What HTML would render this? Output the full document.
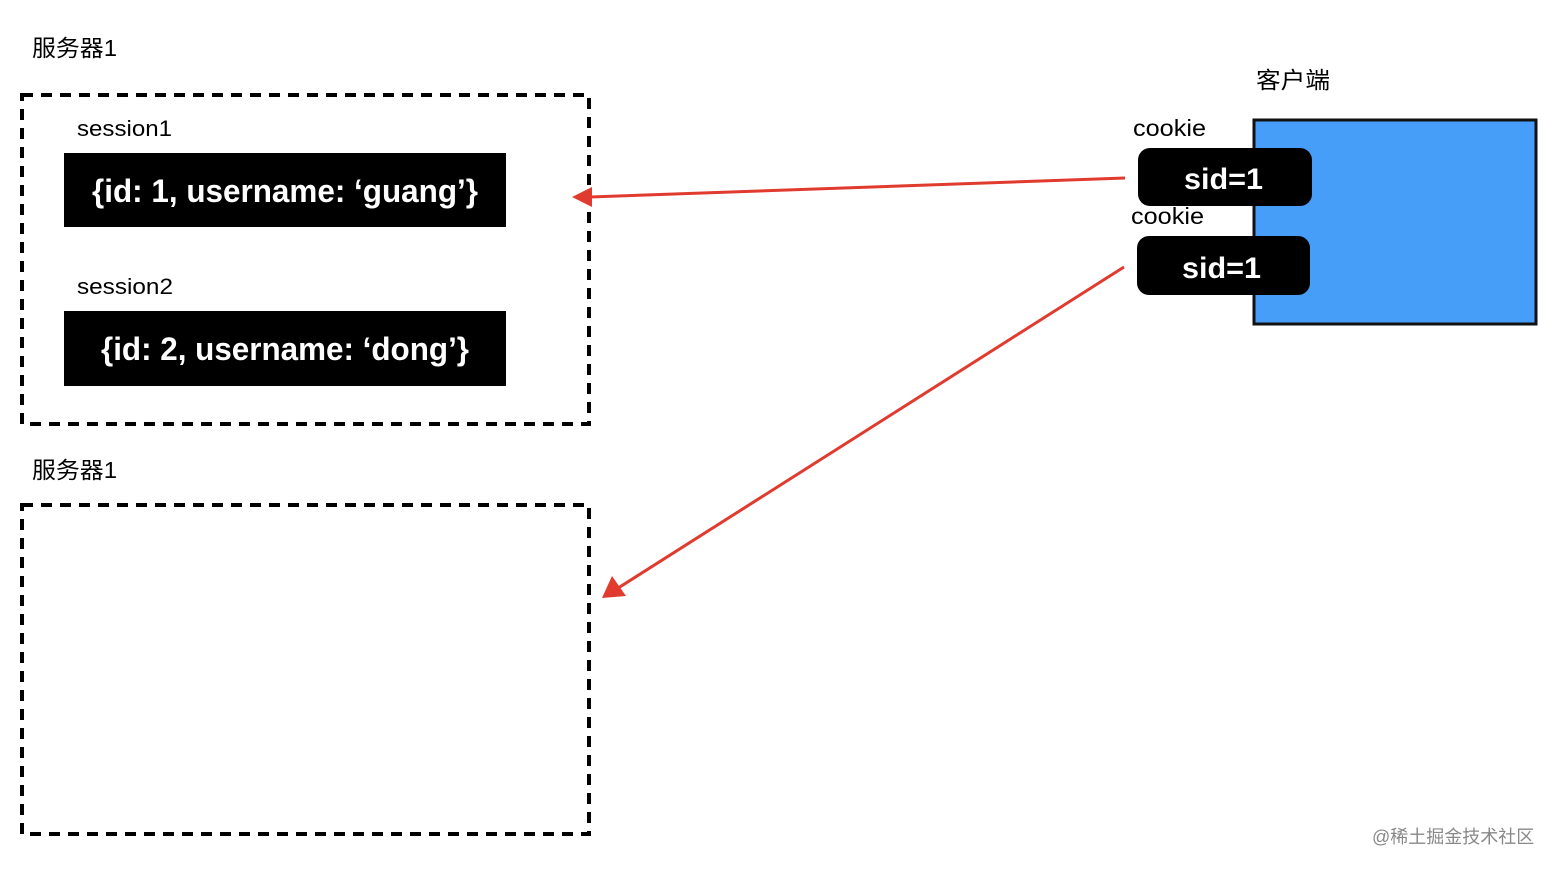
<!DOCTYPE html>
<html><head><meta charset="utf-8"><style>
body{margin:0;background:#fff;}
svg text{font-family:"Liberation Sans","Noto Sans CJK SC",sans-serif;}
</style></head><body>
<svg width="1556" height="870" xmlns="http://www.w3.org/2000/svg">
<rect x="0" y="0" width="1556" height="870" fill="#fff"/>
<text x="32" y="56" font-size="23" fill="#000" textLength="85" lengthAdjust="spacingAndGlyphs">服务器1</text>
<rect x="22" y="95" width="567" height="329" fill="none" stroke="#000" stroke-width="4" stroke-dasharray="11,8"/>
<text x="77" y="136" font-size="22" textLength="95" lengthAdjust="spacingAndGlyphs">session1</text>
<rect x="64" y="153" width="442" height="74" fill="#000"/>
<text x="92" y="202" font-size="32" fill="#fff" font-weight="bold" textLength="386" lengthAdjust="spacingAndGlyphs">{id: 1, username: ‘guang’}</text>
<text x="77" y="294" font-size="22" textLength="96" lengthAdjust="spacingAndGlyphs">session2</text>
<rect x="64" y="311" width="442" height="75" fill="#000"/>
<text x="101" y="360" font-size="32" fill="#fff" font-weight="bold" textLength="368" lengthAdjust="spacingAndGlyphs">{id: 2, username: ‘dong’}</text>
<text x="32" y="478" font-size="23" fill="#000" textLength="85" lengthAdjust="spacingAndGlyphs">服务器1</text>
<rect x="22" y="505" width="567" height="329" fill="none" stroke="#000" stroke-width="4" stroke-dasharray="11,8"/>
<text x="1256" y="88" font-size="23" textLength="74" lengthAdjust="spacingAndGlyphs">客户端</text>
<rect x="1254" y="120" width="282" height="204" fill="#479ef8" stroke="#111" stroke-width="3"/>
<text x="1133" y="136" font-size="23" textLength="73" lengthAdjust="spacingAndGlyphs">cookie</text>
<rect x="1138" y="148" width="174" height="58" rx="12" fill="#000"/>
<text x="1184" y="189" font-size="30" font-weight="bold" fill="#fff" textLength="79" lengthAdjust="spacingAndGlyphs">sid=1</text>
<text x="1131" y="224" font-size="23" textLength="73" lengthAdjust="spacingAndGlyphs">cookie</text>
<rect x="1137" y="236" width="173" height="59" rx="12" fill="#000"/>
<text x="1182" y="278" font-size="30" font-weight="bold" fill="#fff" textLength="79" lengthAdjust="spacingAndGlyphs">sid=1</text>
<line x1="1125" y1="178" x2="590" y2="197" stroke="#e03b2e" stroke-width="3"/>
<polygon points="572,197 592,187 592,207" fill="#e03b2e"/>
<line x1="1124" y1="267" x2="615" y2="590" stroke="#e03b2e" stroke-width="3"/>
<polygon points="602,598 612,576 626,596" fill="#e03b2e"/>
<text x="1372" y="843" font-size="18" fill="#888">@稀土掘金技术社区</text>
</svg>
</body></html>
